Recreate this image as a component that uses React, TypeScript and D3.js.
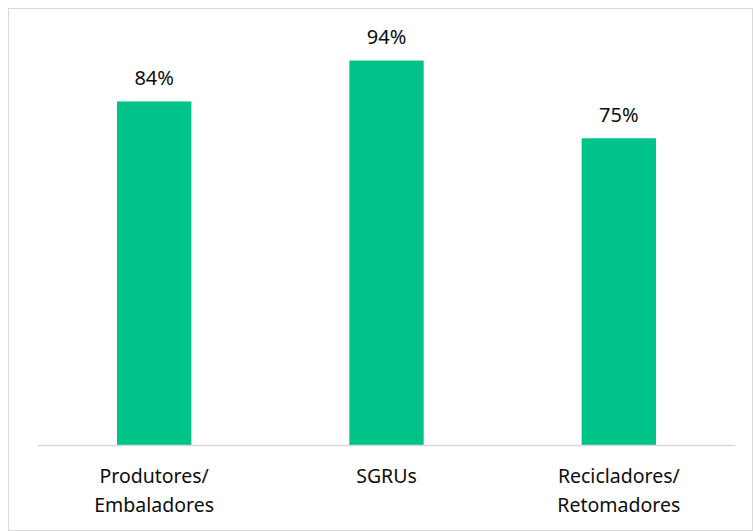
import React from "react";
import * as d3 from "d3";

const categories: string[][] = [["Produtores/", "Embaladores"], ["SGRUs"], ["Recicladores/", "Retomadores"]];
const keys = ["p", "s", "r"];
const values = [0.84, 0.94, 0.75];
const valueLabels = ["84%", "94%", "75%"];

export default function App() {
  const W = 753, H = 531;
  const x = d3.scaleBand<string>().domain(keys).range([38, 735]).padding(0);
  const y = d3.scaleLinear().domain([0, 1]).range([445, 36]);
  const barW = x.bandwidth() * 0.32;
  const font = "'Noto Sans', 'Open Sans', sans-serif";
  return (
    <svg width={W} height={H} style={{ position: "absolute", left: 0, top: 0 }}>
      <rect x={8.5} y={8.5} width={W - 9} height={H - 9} fill="#fff" stroke="#d9d9d9" strokeWidth={1} />
      {keys.map((k, i) => {
        const cx = (x(k) as number) + x.bandwidth() / 2;
        return (
          <g key={k}>
            <rect x={cx - barW / 2} y={y(values[i])} width={barW} height={y(0) - y(values[i])} fill="#00C389" />
            <text x={cx} y={y(values[i]) - 16.5} textAnchor="middle" fontFamily={font} fontSize={20} fill="#0d0d0d">
              {valueLabels[i]}
            </text>
            {categories[i].map((line, j) => (
              <text key={j} x={cx} y={483 + j * 29} textAnchor="middle" fontFamily={font} fontSize={19.5} fill="#0d0d0d">
                {line}
              </text>
            ))}
          </g>
        );
      })}
      <line x1={38} x2={735} y1={y(0) + 0.5} y2={y(0) + 0.5} stroke="#d9d9d9" strokeWidth={1.5} />
    </svg>
  );
}
